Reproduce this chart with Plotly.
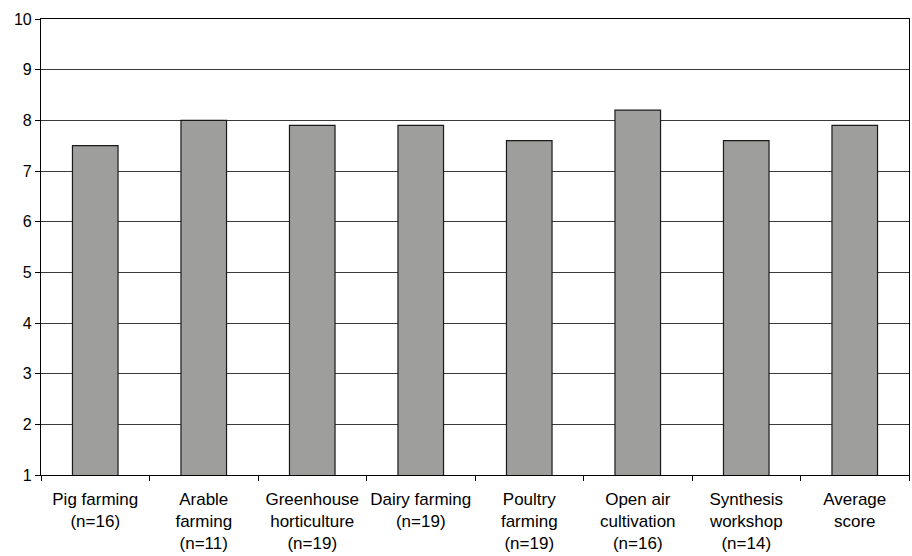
import plotly.graph_objects as go

categories = [
    "Pig farming<br>(n=16)",
    "Arable<br>farming<br>(n=11)",
    "Greenhouse<br>horticulture<br>(n=19)",
    "Dairy farming<br>(n=19)",
    "Poultry<br>farming<br>(n=19)",
    "Open air<br>cultivation<br>(n=16)",
    "Synthesis<br>workshop<br>(n=14)",
    "Average<br>score",
]
scores = [7.5, 8.0, 7.9, 7.9, 7.6, 8.2, 7.6, 7.9]
y_ticks = list(range(1, 11))

font_family = "Liberation Sans, Arial, sans-serif"

fig = go.Figure(
    go.Bar(
        x=categories,
        y=scores,
        base=0,
        marker=dict(color="#9e9f9d", line=dict(color="#1a1a1a", width=1.2)),
    )
)

fig.update_layout(
    width=912,
    height=556,
    margin=dict(l=41, r=3, t=19, b=81),
    paper_bgcolor="white",
    plot_bgcolor="white",
    bargap=0.58,
    showlegend=False,
    font=dict(family=font_family, size=16, color="black"),
)

fig.update_yaxes(
    range=[1, 10],
    tickvals=y_ticks,
    showgrid=True,
    gridcolor="#3a3a3a",
    gridwidth=1,
    showline=True,
    linecolor="black",
    linewidth=1.2,
    mirror=True,
    ticks="outside",
    ticklen=5,
    tickcolor="black",
    zeroline=False,
    tickfont=dict(size=16),
)

fig.update_xaxes(
    showline=True,
    linecolor="black",
    linewidth=1.2,
    mirror=True,
    ticks="outside",
    tickson="boundaries",
    ticklen=5,
    tickcolor="black",
    showgrid=False,
    tickangle=0,
    ticklabelstandoff=8,
    tickfont=dict(size=17),
)

fig.write_html("out.html")
